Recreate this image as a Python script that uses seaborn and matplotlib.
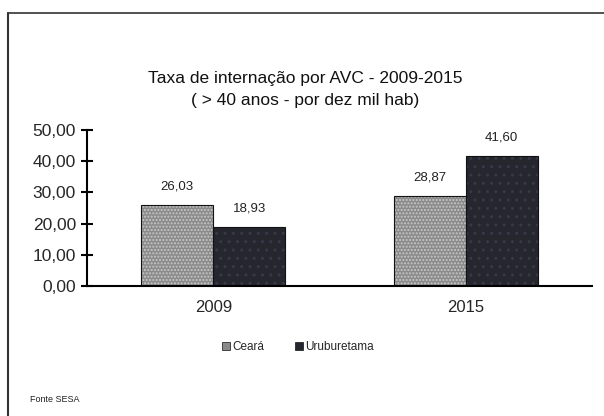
import matplotlib
matplotlib.use("Agg")
import matplotlib.pyplot as plt
from matplotlib.lines import Line2D
from matplotlib.patches import Patch
import seaborn as sns
import pandas as pd

years = ["2009", "2015"]
series = ["Ceará", "Uruburetama"]
ceara = [26.03, 28.87]
uruburetama = [18.93, 41.60]
yticks = [0, 10, 20, 30, 40, 50]

df = pd.DataFrame({
    "ano": years * 2,
    "local": [series[0]] * 2 + [series[1]] * 2,
    "valor": ceara + uruburetama,
})

sns.set_theme(style="white")
plt.rcParams["font.family"] = ["Liberation Sans", "DejaVu Sans"]

colors = {"Ceará": "#8a8a8a", "Uruburetama": "#23252f"}

fig = plt.figure(figsize=(6.04, 4.16), dpi=100)
ax = fig.add_axes([87 / 604, 1 - 286 / 416, (592 - 87) / 604, (286 - 130) / 416])

sns.barplot(data=df, x="ano", y="valor", hue="local", order=years,
            hue_order=series, palette=colors, width=0.57, ax=ax,
            edgecolor="#111111", linewidth=0.8, legend=False, errorbar=None)

for i, cont in enumerate(ax.containers):
    for bar in cont:
        bar.set_hatch("....." if i == 0 else "..")
        bar._hatch_color = matplotlib.colors.to_rgba("#c8c8c8" if i == 0 else "#363946")
    ax.bar_label(cont, labels=[f"{v:.2f}".replace(".", ",") for v in cont.datavalues],
                 padding=9, fontsize=9.5, color="#222222")

ax.set_ylim(0, 50)
ax.set_xlim(-0.5, 1.5)
ax.set_yticks(yticks)
ax.set_yticklabels([f"{v:.2f}".replace(".", ",") for v in yticks], fontsize=12.5)
ax.set_xticks([0, 1])
ax.set_xticklabels(years, fontsize=12)
ax.set_xticks([-0.5, 0.5, 1.5], minor=True)
ax.tick_params(axis="x", which="major", length=0, pad=10)
ax.tick_params(axis="x", which="minor", length=8, width=1.5, direction="inout", color="black")
ax.tick_params(axis="y", length=8, width=1.5, direction="inout", color="black", pad=4, left=True)
ax.set_xlabel("")
ax.set_ylabel("")
for s in ["top", "right"]:
    ax.spines[s].set_visible(False)
for s in ["left", "bottom"]:
    ax.spines[s].set_color("black")
    ax.spines[s].set_linewidth(1.5)

fig.text(305 / 604, 1 - 78 / 416, "Taxa de internação por AVC - 2009-2015",
         ha="center", va="center", fontsize=12.5, color="#111111")
fig.text(305 / 604, 1 - 101 / 416, "( > 40 anos - por dez mil hab)",
         ha="center", va="center", fontsize=12.5, color="#111111")

handles = [Patch(facecolor=colors[s], edgecolor="#111111", linewidth=0.5) for s in series]
fig.legend(handles, series, loc="center", bbox_to_anchor=(298 / 604, 1 - 347 / 416),
           ncol=2, frameon=False, fontsize=8.5, handlelength=0.7, handleheight=0.7,
           handletextpad=0.2, columnspacing=2.6)

fig.text(30 / 604, 1 - 399 / 416, "Fonte SESA", ha="left", va="center", fontsize=6.5,
         color="#222222")

fig.add_artist(Line2D([8 / 604, 1.0], [1 - 13 / 416] * 2, color="#333333", linewidth=1.2))
fig.add_artist(Line2D([8 / 604] * 2, [0, 1 - 13 / 416], color="#333333", linewidth=1.5))

fig.savefig("out.png", dpi=100, facecolor="white")
